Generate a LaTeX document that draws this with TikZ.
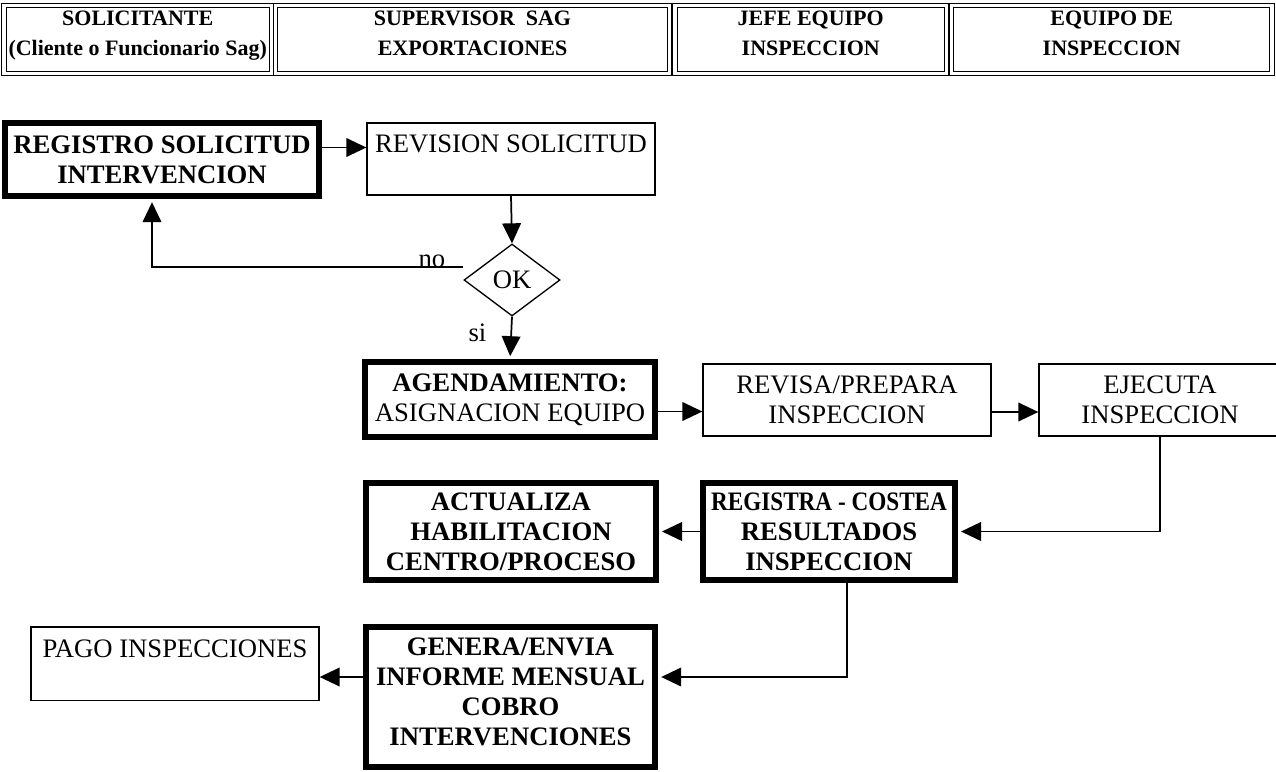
\documentclass[tikz,border=0pt]{standalone}
\usepackage{fontspec}
\setmainfont{Liberation Serif}
\usetikzlibrary{arrows.meta,positioning,shapes.geometric}
\newcommand{\hdrop}{\rule[-10pt]{0pt}{10pt}}
\tikzset{
  box/.style={draw, align=center, inner sep=2pt, font=\fontsize{20}{22.5}\selectfont},
  tbox/.style={box, line width=1pt},
  kbox/.style={box, line width=4.5pt, font=\fontsize{20}{22.5}\selectfont\bfseries},
  hbox/.style={draw, double, line width=0.8pt, double distance=2.8pt, align=center,
    font=\fontsize{16.5}{22.5}\selectfont\bfseries, minimum height=51pt},
  flow/.style={-{Triangle[length=15pt,width=14pt]}, line width=1.3pt},
  kflow/.style={flow, shorten >=2.25pt},
  lbl/.style={font=\fontsize{20}{22.5}\selectfont, inner sep=0pt},
}
\begin{document}
\begin{tikzpicture}[x=0.75pt,y=-0.75pt]
\useasboundingbox (0,0) rectangle (1276,771);
% header
\node[hbox, minimum width=198.4pt] (h1) at (137.75,39.5) {SOLICITANTE\\(Cliente o Funcionario Sag)\hdrop};
\node[hbox, minimum width=295.5pt] (h2) at (472.5,39.5) {SUPERVISOR~~SAG\\EXPORTACIONES\hdrop};
\node[hbox, minimum width=203.6pt] (h3) at (810.75,39.5) {JEFE EQUIPO\\INSPECCION\hdrop};
\node[hbox, minimum width=240.4pt] (h4) at (1111.75,39.5) {EQUIPO DE\\INSPECCION\hdrop};
% steps
\node[kbox, minimum width=235.5pt, minimum height=55pt] (reg) at (162,159.5) {REGISTRO SOLICITUD\\INTERVENCION};
\node[tbox, minimum width=216pt, minimum height=54pt] (rev) at (511,159) {REVISION SOLICITUD\\\mbox{}};
\node[tbox, diamond, aspect=1.33, minimum width=72pt, minimum height=54pt, inner sep=0pt] (ok) at (512,280) {OK};
\node[kbox, minimum width=217.5pt, minimum height=56pt] (age) at (510,399.5) {AGENDAMIENTO:\\\textmd{ASIGNACION EQUIPO}};
\node[tbox, minimum width=216pt, minimum height=54pt] (prep) at (847,400) {REVISA/PREPARA\\INSPECCION};
\node[tbox, minimum width=181.5pt, minimum height=54pt] (eje) at (1160,400) {EJECUTA\\INSPECCION};
\node[kbox, minimum width=189pt, minimum height=73pt] (cost) at (829,531.5) {\scalebox{0.87}[1]{REGISTRA - COSTEA}\\RESULTADOS\\INSPECCION};
\node[kbox, minimum width=217.5pt, minimum height=73pt] (act) at (511,531.5) {ACTUALIZA\\HABILITACION\\CENTRO/PROCESO};
\node[kbox, minimum width=217pt, minimum height=105pt] (gen) at (510.5,697) {GENERA/ENVIA\\INFORME MENSUAL\\COBRO\\INTERVENCIONES\rule[-8pt]{0pt}{8pt}};
\node[tbox, minimum width=216pt, minimum height=55pt] (pago) at (175,663.5) {PAGO INSPECCIONES\\\mbox{}};
\coordinate (noend) at (463,267);
% connectors
\draw[flow] ([yshift=9pt]reg.east) -- ([yshift=9pt]reg.east -| rev.west);
\draw[flow] (rev.south) -- (ok.north);
\draw[kflow] (noend) -| node[lbl, above, pos=0.05, yshift=-1pt] {no} ([xshift=-7.5pt]reg.south);
\draw[kflow] (ok.south) -- node[lbl, left=18pt, pos=0.37] {si} (age.north);
\draw[flow] ([yshift=-9pt]age.east) -- ([yshift=-9pt]age.east -| prep.west);
\draw[flow] ([yshift=-9pt]prep.east) -- ([yshift=-9pt]prep.east -| eje.west);
\draw[kflow] (eje.south) |- (cost.east);
\draw[kflow] (cost.west) -- (act.east);
\draw[kflow] ([xshift=13.5pt]cost.south) |- ([yshift=15pt]gen.east);
\draw[flow] ([yshift=15pt]gen.west) -- ([yshift=15pt]gen.west -| pago.east);
\end{tikzpicture}
\end{document}
